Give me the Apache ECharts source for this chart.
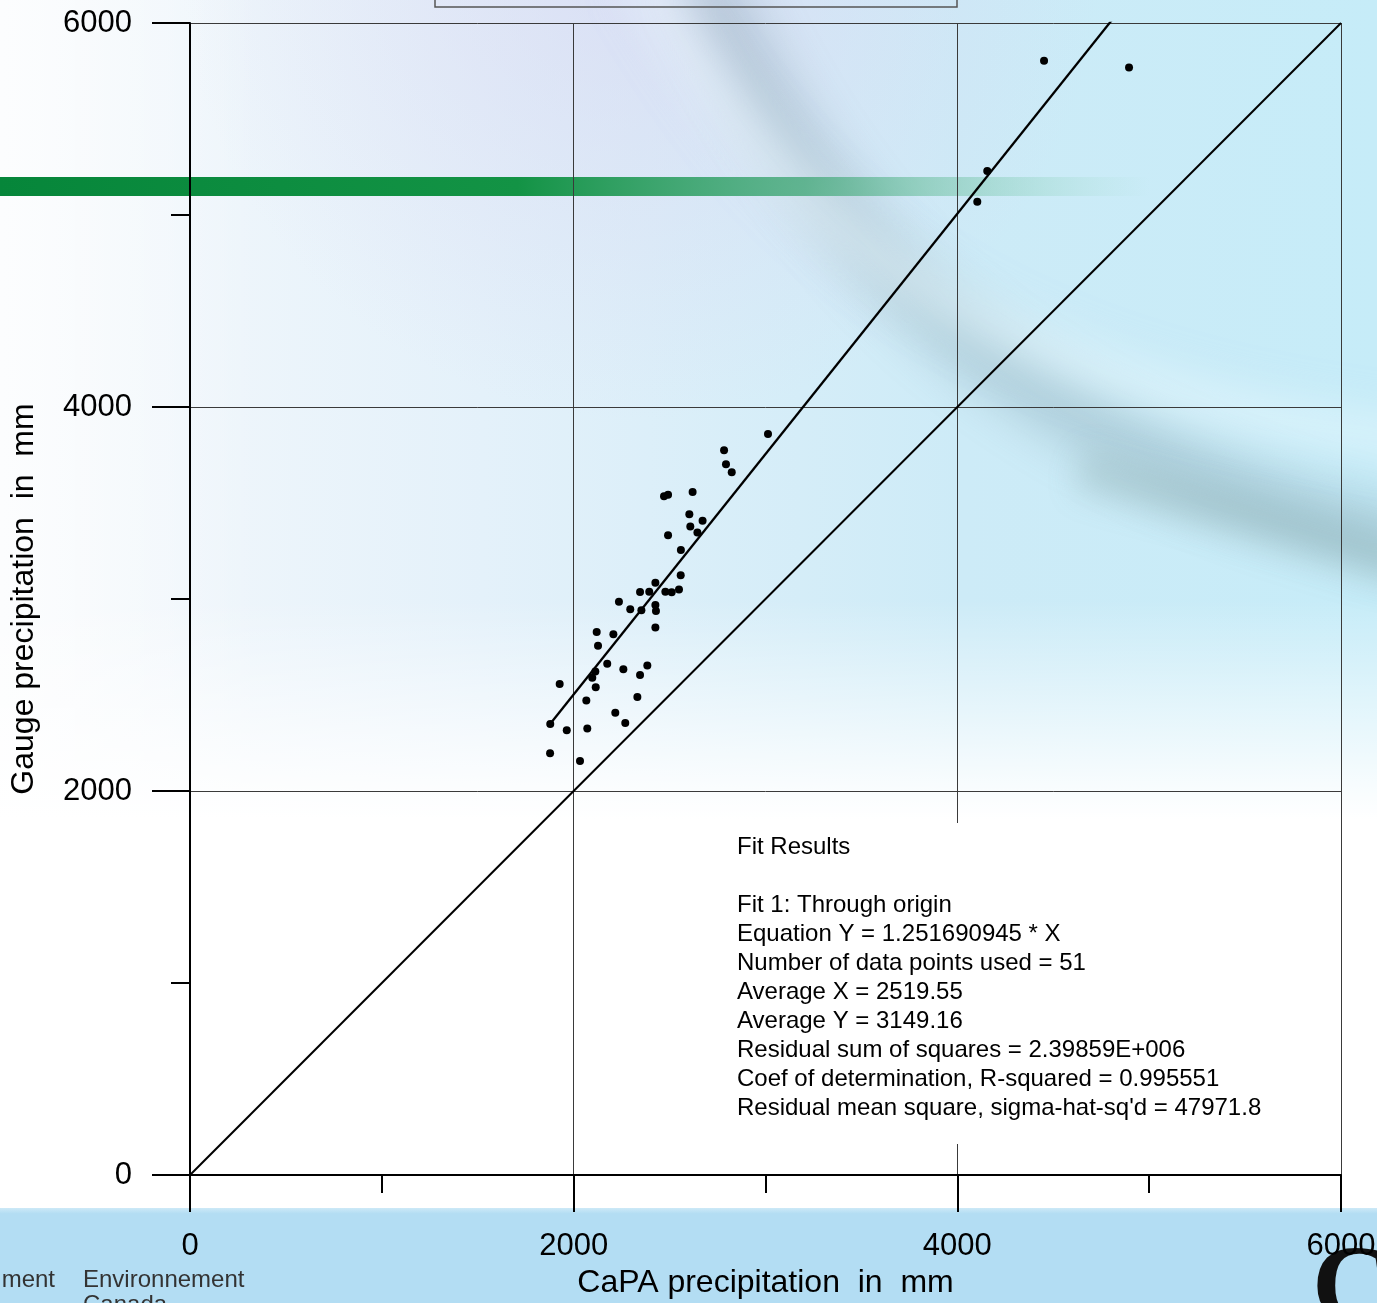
<!DOCTYPE html>
<html><head><meta charset="utf-8">
<script src="https://cdn.jsdelivr.net/npm/echarts@6/dist/echarts.min.js"></script>
<style>html,body{margin:0;padding:0;background:#fff;}#c{width:1377px;height:1303px;}</style>
</head><body><div id="c"></div>
<script>
// CaPA precipitation (x, mm) and gauge precipitation (y, mm)
const capaX = [3013, 2784, 2794, 2824, 2471, 2492, 2620, 2603, 2672, 2608,
               2645, 2492, 2559, 2558, 2426, 2346, 2394, 2478, 2511, 2549,
               2236, 2295, 2353, 2426, 2429, 2426, 2120, 2207, 2127, 2175,
               2259, 2384, 2113, 2097, 2346, 1927, 2115, 2066, 2332, 2217,
               2269, 1878, 1964, 2071, 1877, 2033, 4452, 4895, 4156, 4104];
const gaugeY = [3859, 3775, 3702, 3660, 3535, 3543, 3557, 3441, 3408, 3377,
                3347, 3332, 3255, 3124, 3085, 3036, 3038, 3038, 3035, 3049,
                2986, 2946, 2941, 2969, 2938, 2851, 2828, 2816, 2757, 2663,
                2634, 2653, 2622, 2590, 2604, 2557, 2540, 2472, 2490, 2408,
                2354, 2349, 2316, 2325, 2196, 2156, 5804, 5768, 5229, 5069];
const fitSlope = 1.251690945;
const axisMin = 0, axisMax = 6000, axisStep = 2000;
const xAxisTitle = 'CaPA precipitation  in  mm';
const yAxisTitle = 'Gauge precipitation  in  mm';
const fitResults = [
  'Fit Results',
  '',
  'Fit 1: Through origin',
  'Equation Y = 1.251690945 * X',
  'Number of data points used = 51',
  'Average X = 2519.55',
  'Average Y = 3149.16',
  'Residual sum of squares = 2.39859E+006',
  'Coef of determination, R-squared = 0.995551',
  "Residual mean square, sigma-hat-sq'd = 47971.8"
];

const points = capaX.map((x, i) => [x, gaugeY[i]]);
const fitX0 = Math.min(...capaX), fitX1 = Math.max(...capaX);
const fitLine = [[fitX0, fitSlope * fitX0], [fitX1, fitSlope * fitX1]];
const identityLine = [[axisMin, axisMin], [axisMax, axisMax]];

const FONT = '"Liberation Sans", Arial, sans-serif';
function lin(x, y, x2, y2, stops) {
  return {type: 'linear', x: x, y: y, x2: x2, y2: y2, global: false,
          colorStops: stops.map(s => ({offset: s[0], color: s[1]}))};
}
// soft blurred stroke: shape drawn off-canvas, only its shadow is visible
const OFF = 3000;
function softCurve(x1, y1, c1x, c1y, c2x, c2y, x2, y2, w, blur, color) {
  return {type: 'bezierCurve', z: -18, silent: true,
    shape: {x1: x1 - OFF, y1: y1, cpx1: c1x - OFF, cpy1: c1y, cpx2: c2x - OFF, cpy2: c2y, x2: x2 - OFF, y2: y2},
    style: {fill: null, stroke: '#000', lineWidth: w, shadowBlur: blur, shadowColor: color, shadowOffsetX: OFF}};
}
const chart = echarts.init(document.getElementById('c'), null, {renderer: 'canvas'});

const axisCommon = {
  type: 'value', min: axisMin, max: axisMax, interval: axisStep,
  axisLine: {show: true, onZero: false, lineStyle: {color: '#000', width: 2}},
  axisTick: {show: true, inside: false, lineStyle: {color: '#000', width: 2}},
  minorTick: {show: true, splitNumber: 2, lineStyle: {color: '#000', width: 2}},
  splitLine: {show: true, lineStyle: {color: '#3a3a3a', width: 1}},
  axisLabel: {color: '#000', fontSize: 31, fontFamily: FONT, formatter: v => String(v)},
  nameLocation: 'middle',
  nameTextStyle: {color: '#000', fontSize: 32, fontFamily: FONT}
};

const option = {
  backgroundColor: '#ffffff',
  animation: false,
  grid: {left: 190, right: 36, top: 23, bottom: 128, containLabel: false, outerBoundsMode: 'none'},
  xAxis: Object.assign({}, axisCommon, {
    axisTick: Object.assign({}, axisCommon.axisTick, {length: 37}),
    minorTick: Object.assign({}, axisCommon.minorTick, {length: 18}),
    axisLabel: Object.assign({}, axisCommon.axisLabel, {margin: 56}),
    name: xAxisTitle, nameGap: 90
  }),
  yAxis: Object.assign({}, axisCommon, {
    axisTick: Object.assign({}, axisCommon.axisTick, {length: 38}),
    minorTick: Object.assign({}, axisCommon.minorTick, {length: 19}),
    axisLabel: Object.assign({}, axisCommon.axisLabel, {margin: 58}),
    name: yAxisTitle, nameGap: 150, nameRotate: 90
  }),
  graphic: [
    // slide background
    {type: 'rect', z: -20, silent: true, shape: {x: 0, y: 0, width: 1377, height: 1303},
     style: {fill: lin(0, 0, 1, 0, [[0, '#f6f9fc'], [0.35, '#e4f1fa'], [0.7, '#cdebf7'], [1, '#c6ecf8']])}},
    {type: 'rect', z: -19, silent: true, shape: {x: 0, y: 0, width: 1377, height: 500},
     style: {fill: {type: 'radial', x: 640, y: -40, r: 460, global: true,
       colorStops: [{offset: 0, color: 'rgba(215,210,240,0.55)'}, {offset: 1, color: 'rgba(215,210,240,0)'}]}}},
    {type: 'rect', z: -19, silent: true, shape: {x: 0, y: 0, width: 260, height: 800},
     style: {fill: lin(0, 0, 1, 0, [[0, 'rgba(255,255,255,0.7)'], [1, 'rgba(255,255,255,0)']])}},
    // soft swoosh
    softCurve(700, -30, 800, 180, 930, 430, 1420, 545, 60, 45, 'rgba(115,145,160,0.32)'),
    softCurve(1080, 470, 1180, 500, 1280, 520, 1420, 570, 40, 30, 'rgba(120,150,150,0.25)'),
    softCurve(640, -30, 760, 170, 900, 380, 1420, 440, 35, 40, 'rgba(240,252,255,0.5)'),
    // fade to white towards the bottom
    {type: 'rect', z: -17, silent: true, shape: {x: 0, y: 600, width: 1377, height: 610},
     style: {fill: lin(0, 0, 0, 1, [[0, 'rgba(255,255,255,0)'], [0.3, 'rgba(255,255,255,0.85)'],
                                    [0.36, '#ffffff'], [1, '#ffffff']])}},
    // green band
    {type: 'rect', z: -16, silent: true, shape: {x: 0, y: 177, width: 1150, height: 19},
     style: {fill: lin(0, 0, 1, 0, [[0, '#06863a'], [0.45, '#139345'], [0.7, 'rgba(60,165,115,0.75)'],
                                    [0.88, 'rgba(120,200,170,0.35)'], [1, 'rgba(150,215,190,0)']])}},
    // bottom strip
    {type: 'rect', z: -15, silent: true, shape: {x: 0, y: 1208, width: 1377, height: 95},
     style: {fill: lin(0, 0, 0, 1, [[0, '#cde9f7'], [0.06, '#b3ddf3'], [1, '#b3ddf3']])}},
    {type: 'text', z: -14, silent: true, x: 55, y: 1268,
     style: {text: 'ment', fill: '#333', font: '24px ' + FONT, align: 'right'}},
    {type: 'text', z: -14, silent: true, x: 83, y: 1268,
     style: {text: 'Environnement', fill: '#333', font: '24px ' + FONT}},
    {type: 'text', z: -14, silent: true, x: 83, y: 1293,
     style: {text: 'Canada', fill: '#333', font: '24px ' + FONT}},
    {type: 'text', z: -14, silent: true, x: 1312, y: 1238,
     style: {text: 'C', fill: '#111', font: 'bold 110px "Liberation Serif", "DejaVu Serif", serif'}},
    // cut-off title box at the top
    {type: 'rect', z: -5, silent: true, shape: {x: 435, y: -10, width: 522, height: 17},
     style: {fill: null, stroke: '#555', lineWidth: 1.5}},
    // fit results box
    {type: 'rect', z: 5, silent: true, shape: {x: 725, y: 823, width: 612, height: 321},
     style: {fill: '#ffffff'}},
    {type: 'text', z: 6, silent: true, x: 737, y: 833,
     style: {text: fitResults.join('\n'), fill: '#000', font: '24px ' + FONT, lineHeight: 29}}
  ],
  series: [
    {type: 'line', data: identityLine, showSymbol: false, symbol: 'none', clip: true,
     lineStyle: {color: '#000', width: 2}, z: 3},
    {type: 'line', data: fitLine, showSymbol: false, symbol: 'none', clip: true,
     lineStyle: {color: '#000', width: 2.3}, z: 3},
    {type: 'scatter', data: points, symbol: 'circle', symbolSize: 8,
     itemStyle: {color: '#000', opacity: 1}, z: 4}
  ]
};
chart.setOption(option);
</script>
</body></html>
